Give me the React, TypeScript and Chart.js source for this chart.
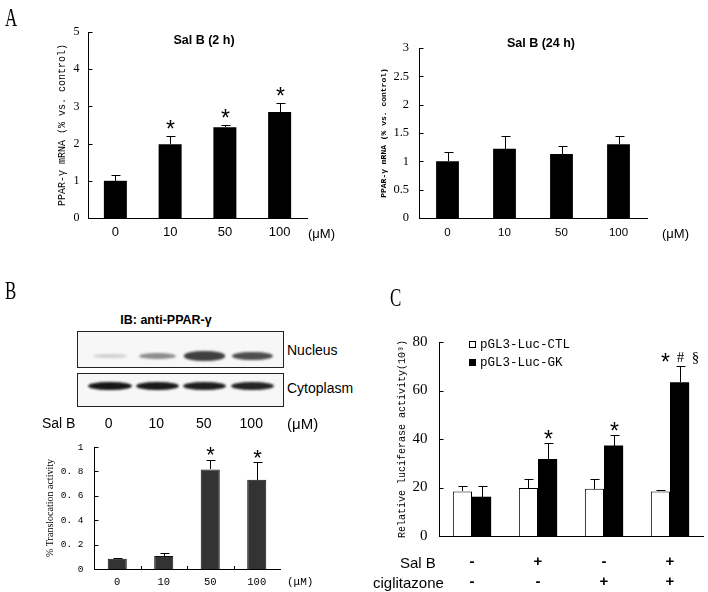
import React, { useEffect, useRef } from 'react';
import { Chart, registerables } from 'chart.js';

Chart.register(...registerables);

// ---------------- data ----------------
const doseLabels = ['0', '10', '50', '100'];

const mrna2hMeans = [1.0, 1.98, 2.44, 2.85];
const mrna2hErrors = [0.16, 0.22, 0.06, 0.25];
const mrna2hMarks = ['', '*', '*', '*'];

const mrna24hMeans = [1.0, 1.22, 1.13, 1.3];
const mrna24hErrors = [0.17, 0.22, 0.14, 0.15];
const mrna24hMarks = ['', '', '', ''];

const translocationMeans = [0.084, 0.106, 0.816, 0.732];
const translocationErrors = [0.005, 0.022, 0.079, 0.144];
const translocationMarks = ['', '', '*', '*'];

const nucleusBand = [0.16, 0.45, 0.78, 0.72];
const cytoplasmBand = [0.96, 0.94, 0.92, 0.9];

const treatmentLabels = [['-', '-'], ['+', '-'], ['-', '+'], ['+', '+']];
const treatmentRows = ['Sal B', 'ciglitazone'];
const seriesNames = ['pGL3-Luc-CTL', 'pGL3-Luc-GK'];
const ctlMeans = [18.4, 19.8, 19.5, 18.4];
const ctlErrors = [2.1, 3.8, 4.1, 0.7];
const gkMeans = [16.2, 31.8, 37.3, 63.4];
const gkErrors = [4.3, 6.6, 4.5, 6.7];
const gkMarks = ['', '*', '*', '* # §'];

// ---------------- styles ----------------
const SANS = '"Liberation Sans", Arial, sans-serif';
const SERIF = '"Liberation Serif", "Times New Roman", serif';
const MONO = '"Liberation Mono", "Courier New", monospace';

// ---------------- plugins ----------------
const errorBarPlugin = {
  id: 'errorBars',
  afterDatasetsDraw(chart: any, _args: any, opts: any) {
    const { ctx } = chart;
    const yScale = chart.scales.y;
    chart.data.datasets.forEach((ds: any, di: number) => {
      if (!ds.errors) return;
      const meta = chart.getDatasetMeta(di);
      meta.data.forEach((bar: any, i: number) => {
        const v = ds.data[i];
        const top = yScale.getPixelForValue(v + ds.errors[i]);
        const x = Math.round(bar.x) + 0.5;
        const yb = Math.round(bar.y);
        const tr = Math.round(top) + 0.5;
        ctx.save();
        ctx.strokeStyle = '#000';
        ctx.lineWidth = 1;
        ctx.beginPath();
        ctx.moveTo(x, yb);
        ctx.lineTo(x, tr);
        ctx.moveTo(x - opts.cap, tr);
        ctx.lineTo(x + opts.cap + 1, tr);
        ctx.stroke();
        const mark = ds.marks && ds.marks[i];
        if (mark) {
          const tokens = mark.split(' ');
          ctx.fillStyle = '#000';
          ctx.textAlign = 'center';
          ctx.textBaseline = 'alphabetic';
          tokens.forEach((t: string, k: number) => {
            const tx = x + (k - (tokens.length - 1) / 2) * opts.gap;
            if (t === '*') {
              ctx.font = `${opts.starSize}px ${SANS}`;
              ctx.fillText(t, tx, top - opts.lift + 0.57 * opts.starSize);
            } else {
              ctx.font = `${opts.symSize}px ${SERIF}`;
              ctx.fillText(t, tx, top - opts.lift + 0.32 * opts.symSize);
            }
          });
        }
        ctx.restore();
      });
    });
  },
};

const axisTicksPlugin = {
  id: 'axisTicks',
  afterDraw(chart: any, _args: any, opts: any) {
    const { ctx, chartArea } = chart;
    const y = chart.scales.y;
    const x = chart.scales.x;
    ctx.save();
    ctx.strokeStyle = '#000';
    ctx.lineWidth = 1;
    ctx.beginPath();
    const ax = Math.round(chartArea.left) + 0.5;
    y.ticks.forEach((t: any) => {
      const py = Math.round(y.getPixelForValue(t.value)) + 0.5;
      ctx.moveTo(ax, py);
      ctx.lineTo(ax + opts.yLen, py);
    });
    if (opts.xLen) {
      const ay = Math.round(chartArea.bottom);
      for (let i = 1; i < x.ticks.length; i++) {
        const px = Math.round((x.getPixelForTick(i - 1) + x.getPixelForTick(i)) / 2) + 0.5;
        ctx.moveTo(px, ay);
        ctx.lineTo(px, ay - opts.xLen);
      }
    }
    ctx.stroke();
    ctx.restore();
  },
};

// ---------------- chart builder ----------------
interface Spec {
  frame: { x: number; y: number; w: number; h: number };
  area: { L: number; T: number; R: number; B: number };
  yWidth: number;
  labels: any[];
  datasets: any[];
  yMax: number;
  yStep: number;
  yTickFont: any;
  yTickGap: number;
  yFormat?: (v: number) => string;
  yTitle: string;
  yTitleFont: any;
  yTitleX: number;
  xTickFont: any;
  xTickPad: number;
  xBoundaryTicks?: number;
  marks: any;
}

function buildConfig(s: Spec): any {
  const padLeft = s.area.L - s.frame.x - s.yWidth;
  const padTop = s.area.T - s.frame.y;
  const padRight = s.frame.x + s.frame.w - s.area.R;
  const xHeight = s.frame.y + s.frame.h - s.area.B;
  const titleLH = s.yTitleFont.size * 1.2;
  const titlePad = s.yTitleX - (s.frame.x + padLeft) - titleLH / 2;
  return {
    type: 'bar',
    data: { labels: s.labels, datasets: s.datasets },
    options: {
      responsive: false,
      animation: false,
      events: [],
      layout: { padding: { left: padLeft, top: padTop, right: padRight, bottom: 0 } },
      plugins: {
        legend: { display: false },
        tooltip: { enabled: false },
        errorBars: s.marks,
        axisTicks: { yLen: 4, xLen: s.xBoundaryTicks || 0 },
      },
      scales: {
        x: {
          ticks: {
            font: s.xTickFont,
            color: '#000',
            padding: s.xTickPad,
            autoSkip: false,
            maxRotation: 0,
          },
          grid: { display: false, drawTicks: false, drawOnChartArea: false },
          border: { display: true, color: '#000', width: 1 },
          afterFit: (sc: any) => {
            sc.height = xHeight;
          },
        },
        y: {
          min: 0,
          max: s.yMax,
          ticks: {
            stepSize: s.yStep,
            font: s.yTickFont,
            color: '#000',
            padding: s.yTickGap,
            callback: s.yFormat ? (v: any) => s.yFormat!(Number(v)) : undefined,
          },
          grid: { display: false, drawTicks: false, drawOnChartArea: false },
          border: { display: true, color: '#000', width: 1 },
          title: {
            display: true,
            text: s.yTitle,
            font: s.yTitleFont,
            color: '#000',
            padding: { top: titlePad, bottom: 0 },
          },
          afterFit: (sc: any) => {
            sc.width = s.yWidth;
          },
        },
      },
    },
    plugins: [errorBarPlugin, axisTicksPlugin],
  };
}

function ChartBox({ spec }: { spec: Spec }) {
  const ref = useRef<HTMLCanvasElement>(null);
  useEffect(() => {
    const chart = new Chart(ref.current as HTMLCanvasElement, buildConfig(spec));
    return () => chart.destroy();
  }, []);
  const f = spec.frame;
  return (
    <canvas
      ref={ref}
      width={f.w}
      height={f.h}
      style={{ position: 'absolute', left: f.x, top: f.y, width: f.w, height: f.h }}
    />
  );
}

// ---------------- specs ----------------
const spec2h: Spec = {
  frame: { x: 28, y: 0, w: 322, h: 250 },
  area: { L: 88, T: 32, R: 307, B: 218 },
  yWidth: 60,
  labels: doseLabels,
  datasets: [
    {
      data: mrna2hMeans,
      errors: mrna2hErrors,
      marks: mrna2hMarks,
      backgroundColor: '#000',
      categoryPercentage: 0.42,
      barPercentage: 1,
    },
  ],
  yMax: 5,
  yStep: 1,
  yTickFont: { family: SERIF, size: 12 },
  yTickGap: 8.5,
  yTitle: 'PPAR-γ mRNA (% vs. control)',
  yTitleFont: { family: MONO, size: 10 },
  yTitleX: 62,
  xTickFont: { family: SANS, size: 13 },
  xTickPad: 7,
  marks: { cap: 4, starSize: 23, lift: 12, symSize: 13, gap: 14 },
};

const spec24h: Spec = {
  frame: { x: 369, y: 0, w: 331, h: 250 },
  area: { L: 419, T: 48, R: 647, B: 218 },
  yWidth: 50,
  labels: doseLabels,
  datasets: [
    {
      data: mrna24hMeans,
      errors: mrna24hErrors,
      marks: mrna24hMarks,
      backgroundColor: '#000',
      categoryPercentage: 0.4,
      barPercentage: 1,
    },
  ],
  yMax: 3,
  yStep: 0.5,
  yTickFont: { family: SERIF, size: 12.5 },
  yTickGap: 10,
  yTitle: 'PPAR-γ mRNA (% vs. control)',
  yTitleFont: { family: MONO, size: 8, weight: 'bold' },
  yTitleX: 384,
  xTickFont: { family: SANS, size: 11.5 },
  xTickPad: 8,
  marks: { cap: 4, starSize: 23, lift: 12, symSize: 13, gap: 14 },
};

const specTrans: Spec = {
  frame: { x: 39, y: 420, w: 261, h: 172 },
  area: { L: 94, T: 447, R: 280, B: 569 },
  yWidth: 55,
  labels: doseLabels,
  datasets: [
    {
      data: translocationMeans,
      errors: translocationErrors,
      marks: translocationMarks,
      backgroundColor: '#333',
      borderColor: '#111',
      borderWidth: 1,
      categoryPercentage: 0.41,
      barPercentage: 1,
    },
  ],
  yMax: 1,
  yStep: 0.2,
  yTickFont: { family: MONO, size: 9.5 },
  yTickGap: 10.5,
  yFormat: (v: number) => (v === 0 || v === 1 ? String(v) : v.toFixed(1).replace('.', '. ')),
  yTitle: '% Translocation activity',
  yTitleFont: { family: SERIF, size: 10 },
  yTitleX: 50,
  xTickFont: { family: MONO, size: 10.5 },
  xTickPad: 6.5,
  xBoundaryTicks: 3,
  marks: { cap: 4, starSize: 22, lift: 10, symSize: 13, gap: 14 },
};

const specLuc: Spec = {
  frame: { x: 389, y: 320, w: 319, h: 272 },
  area: { L: 439, T: 342, R: 703, B: 536 },
  yWidth: 50,
  labels: treatmentLabels,
  datasets: [
    {
      label: seriesNames[0],
      data: ctlMeans,
      errors: ctlErrors,
      backgroundColor: '#fff',
      borderColor: '#000',
      borderWidth: 1,
      categoryPercentage: 0.58,
      barPercentage: 1,
    },
    {
      label: seriesNames[1],
      data: gkMeans,
      errors: gkErrors,
      marks: gkMarks,
      backgroundColor: '#000',
      categoryPercentage: 0.58,
      barPercentage: 1,
    },
  ],
  yMax: 80,
  yStep: 20,
  yTickFont: { family: SERIF, size: 15 },
  yTickGap: 11.5,
  yTitle: 'Relative luciferase activity(10³)',
  yTitleFont: { family: MONO, size: 10 },
  yTitleX: 402,
  xTickFont: { family: SANS, size: 15, weight: 'bold', lineHeight: '20px' },
  xTickPad: 16,
  marks: { cap: 4, starSize: 23, lift: 9, symSize: 15, gap: 15 },
};

// ---------------- HTML helpers ----------------
function Text({
  x,
  y,
  children,
  font,
  size,
  weight,
  align = 'center',
  scaleX,
}: {
  x: number;
  y: number;
  children: any;
  font: string;
  size: number;
  weight?: string;
  align?: 'center' | 'left';
  scaleX?: number;
}) {
  const tx = align === 'center' ? '-50%' : '0';
  return (
    <div
      style={{
        position: 'absolute',
        left: x,
        top: y,
        transform: `translate(${tx}, -50%)${scaleX ? ` scaleX(${scaleX})` : ''}`,
        transformOrigin: align === 'center' ? 'center' : 'left center',
        fontFamily: font,
        fontSize: size,
        fontWeight: (weight as any) || 'normal',
        lineHeight: 1,
        whiteSpace: 'nowrap',
        color: '#000',
      }}
    >
      {children}
    </div>
  );
}

function PanelLetter({ x, top, letter }: { x: number; top: number; letter: string }) {
  return (
    <div
      style={{
        position: 'absolute',
        left: x,
        top,
        fontFamily: SERIF,
        fontSize: 26,
        lineHeight: '26px',
        transform: 'scaleX(0.65)',
        transformOrigin: 'left top',
        color: '#000',
      }}
    >
      {letter}
    </div>
  );
}

const laneStart = 85;
const laneWidth = 47.5;
const laneCenter = (i: number) => laneStart + laneWidth * (i + 0.5);

function Band({ cx, cy, w, h, a }: { cx: number; cy: number; w: number; h: number; a: number }) {
  return (
    <div
      style={{
        position: 'absolute',
        left: cx - w / 2,
        top: cy - h / 2,
        width: w,
        height: h,
        borderRadius: '50%',
        background: `rgba(12,12,12,${a})`,
        filter: 'blur(1px)',
      }}
    />
  );
}

function Blot() {
  const boxLeft = 77;
  const boxW = 207;
  const frame = (top: number, h: number, children: any) => (
    <div
      style={{
        position: 'absolute',
        left: boxLeft,
        top,
        width: boxW,
        height: h,
        border: '1.5px solid #222',
        boxSizing: 'border-box',
        background: '#f7f7f7',
        overflow: 'hidden',
      }}
    >
      {children}
    </div>
  );
  return (
    <>
      {frame(
        331,
        37,
        nucleusBand.map((v, i) => (
          <Band key={i} cx={laneCenter(i) - boxLeft} cy={24} w={32 + 12 * v} h={3 + 8 * v} a={v} />
        ))
      )}
      {frame(
        373,
        34,
        cytoplasmBand.map((v, i) => (
          <Band key={i} cx={laneCenter(i) - boxLeft} cy={12} w={34 + 10 * v} h={2 + 7 * v} a={v} />
        ))
      )}
    </>
  );
}

export default function App() {
  return (
    <div
      style={{
        position: 'absolute',
        left: 0,
        top: 0,
        width: 708,
        height: 592,
        background: '#fff',
        overflow: 'hidden',
      }}
    >
      <ChartBox spec={spec2h} />
      <ChartBox spec={spec24h} />
      <ChartBox spec={specTrans} />
      <ChartBox spec={specLuc} />

      <PanelLetter x={5} top={5} letter="A" />
      <PanelLetter x={5} top={278} letter="B" />
      <PanelLetter x={390} top={285} letter="C" />

      <Text x={204} y={40} font={SANS} size={12.5} weight="bold">
        Sal B (2 h)
      </Text>
      <Text x={541} y={43} font={SANS} size={12.5} weight="bold">
        Sal B (24 h)
      </Text>
      <Text x={308} y={233} font={SANS} size={13} align="left">
        (μM)
      </Text>
      <Text x={662} y={233} font={SANS} size={13} align="left">
        (μM)
      </Text>

      <Text x={166} y={320} font={SANS} size={12.5} weight="bold">
        IB: anti-PPAR-γ
      </Text>
      <Blot />
      <Text x={287} y={350} font={SANS} size={14} align="left">
        Nucleus
      </Text>
      <Text x={287} y={388} font={SANS} size={14} align="left">
        Cytoplasm
      </Text>
      <Text x={42} y={423} font={SANS} size={14} align="left">
        Sal B
      </Text>
      {doseLabels.map((d, i) => (
        <Text key={d} x={laneCenter(i)} y={423} font={SANS} size={14}>
          {d}
        </Text>
      ))}
      <Text x={287} y={423} font={SANS} size={15} align="left">
        (μM)
      </Text>
      <Text x={287} y={581.7} font={MONO} size={11} align="left">
        (μM)
      </Text>

      <Text x={400} y={562} font={SANS} size={15} align="left">
        {treatmentRows[0]}
      </Text>
      <Text x={373} y={582} font={SANS} size={15} align="left">
        {treatmentRows[1]}
      </Text>

      {seriesNames.map((name, i) => (
        <div key={name}>
          <div
            style={{
              position: 'absolute',
              left: 469,
              top: 341 + i * 17.5,
              width: 7,
              height: 7,
              boxSizing: 'border-box',
              border: '1px solid #000',
              background: i === 0 ? '#fff' : '#000',
            }}
          />
          <Text x={480} y={345 + i * 17.5} font={MONO} size={12.5} align="left">
            {name}
          </Text>
        </div>
      ))}
    </div>
  );
}
